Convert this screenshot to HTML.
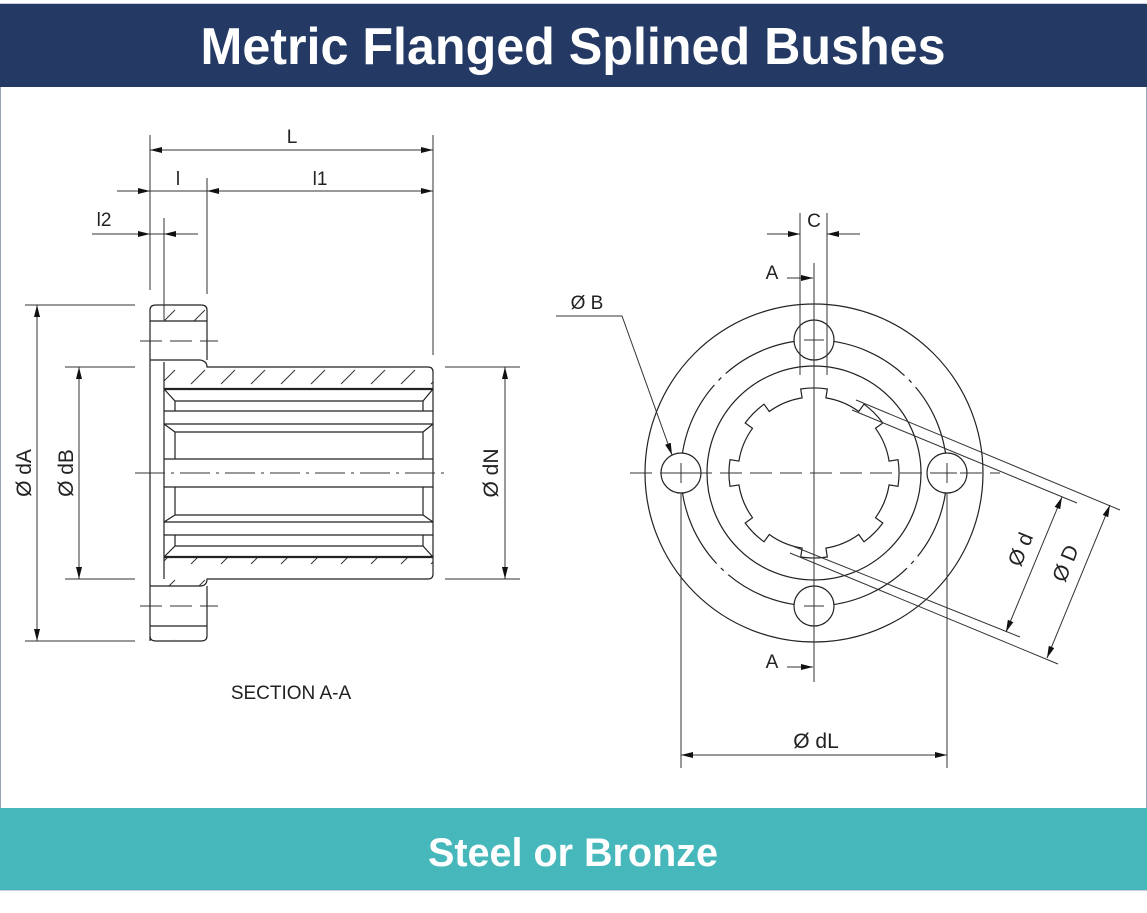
<!DOCTYPE html>
<html><head><meta charset="utf-8"><style>
html,body{margin:0;padding:0;background:#fff;}
svg{display:block;}
text{font-family:"Liberation Sans","DejaVu Sans",sans-serif;}
</style></head><body>
<svg width="1147" height="913" viewBox="0 0 1147 913" xmlns="http://www.w3.org/2000/svg">
<defs>
<marker id="ar" viewBox="0 0 12 6" refX="12" refY="3" markerWidth="12" markerHeight="6" orient="auto" markerUnits="userSpaceOnUse"><path d="M0,0 L12,3 L0,6 z" fill="#111"/></marker>
<marker id="al" viewBox="0 0 12 6" refX="0" refY="3" markerWidth="12" markerHeight="6" orient="auto" markerUnits="userSpaceOnUse"><path d="M12,0 L0,3 L12,6 z" fill="#111"/></marker>
<pattern id="hatch" width="30" height="30" patternUnits="userSpaceOnUse" x="5">
<line x1="6" y1="24" x2="20" y2="10" stroke="#333" stroke-width="1"/>
</pattern>
</defs>
<rect x="0" y="0" width="1147" height="913" fill="#fff"/>
<rect x="0.5" y="4" width="1146" height="886" fill="none" stroke="#9aa6b8" stroke-width="1"/>
<rect x="0" y="4" width="1147" height="83" fill="#243a64"/>
<text x="573" y="64" fill="#fff" font-size="52" font-weight="bold" text-anchor="middle" textLength="745" lengthAdjust="spacingAndGlyphs">Metric Flanged Splined Bushes</text>
<rect x="0" y="808" width="1147" height="82" fill="#46b8bb"/>
<text x="573" y="866" fill="#fff" font-size="40" font-weight="bold" text-anchor="middle" textLength="290" lengthAdjust="spacingAndGlyphs">Steel or Bronze</text>

<g stroke="#222" stroke-width="1.2" fill="none">
<rect x="152" y="307" width="53" height="14" fill="url(#hatch)" stroke="none"/>
<rect x="152" y="626" width="53" height="14" fill="url(#hatch)" stroke="none"/>
<path d="M164,361 L200,361 L207,367 L433,367 L433,389 L164,389 z" fill="url(#hatch)" stroke="none"/>
<path d="M164,557 L433,557 L433,579 L207,579 L200,586 L164,586 z" fill="url(#hatch)" stroke="none"/>
<path d="M150,641 L150,310 Q150,305 156,305 L201,305 Q207,305 207,310 L207,360"/>
<path d="M150,321 L207,321" />
<path d="M150,360 L200,360 Q207,361 207,367 L428,367 Q433,367 433,372 L433,574 Q433,579 428,579 L207,579 Q207,586 200,586 L150,586"/>
<path d="M207,586 L207,636 Q207,641 201,641 L156,641 Q150,641 150,636"/>
<path d="M150,626 L207,626"/>
<line x1="164" y1="362" x2="164" y2="579"/>
<line x1="164" y1="389" x2="433" y2="389" stroke-width="2.2"/>
<line x1="164" y1="557" x2="433" y2="557" stroke-width="2.2"/>
<path d="M164,389 L175,401 L423,401 L433,389 M175,401 L175,411 L423,411 L423,401 M164,411 L433,411"/>
<path d="M164,424 L433,424 M164,424 L175,432 L423,432 L433,424 M175,432 L175,459 M423,432 L423,459 M164,459 L433,459"/>
<path d="M164,487 L433,487 M175,487 L175,515 M423,487 L423,515 M164,522 L433,522 M164,522 L175,515 L423,515 L433,522"/>
<path d="M164,535 L433,535 M175,535 L175,546 L423,546 L423,535 M164,557 L175,546 M423,546 L433,557"/>
</g>
<g stroke="#333" stroke-width="1" fill="none">
<line x1="135" y1="473" x2="445" y2="473" stroke-dasharray="30,6,3,6"/>
<line x1="140" y1="341" x2="218" y2="341" stroke-dasharray="22,8"/>
<line x1="140" y1="606" x2="218" y2="606" stroke-dasharray="22,8"/>
<line x1="25" y1="305" x2="135" y2="305"/>
<line x1="25" y1="641" x2="135" y2="641"/>
<line x1="37" y1="305" x2="37" y2="641" marker-start="url(#al)" marker-end="url(#ar)"/>
<line x1="65" y1="367" x2="135" y2="367"/>
<line x1="65" y1="579" x2="135" y2="579"/>
<line x1="79" y1="367" x2="79" y2="579" marker-start="url(#al)" marker-end="url(#ar)"/>
<line x1="445" y1="367" x2="520" y2="367"/>
<line x1="445" y1="579" x2="520" y2="579"/>
<line x1="505" y1="367" x2="505" y2="579" marker-start="url(#al)" marker-end="url(#ar)"/>
<line x1="150" y1="135" x2="150" y2="290"/>
<line x1="433" y1="135" x2="433" y2="355"/>
<line x1="207" y1="178" x2="207" y2="294"/>
<line x1="164" y1="218" x2="164" y2="320"/>
<line x1="150" y1="150" x2="433" y2="150" marker-start="url(#al)" marker-end="url(#ar)"/>
<line x1="117" y1="191" x2="150" y2="191" marker-end="url(#ar)"/>
<line x1="150" y1="191" x2="207" y2="191"/>
<line x1="207" y1="191" x2="433" y2="191" marker-start="url(#al)" marker-end="url(#ar)"/>
<line x1="92" y1="234" x2="150" y2="234" marker-end="url(#ar)"/>
<line x1="150" y1="234" x2="164" y2="234"/>
<line x1="198" y1="234" x2="164" y2="234" marker-end="url(#ar)"/>
</g>
<g fill="#222" font-size="19">
<text x="292" y="143" text-anchor="middle">L</text>
<text x="178" y="185" text-anchor="middle">l</text>
<text x="320" y="185" text-anchor="middle">l1</text>
<text x="104" y="226" text-anchor="middle">l2</text>
<text transform="translate(31,473) rotate(-90)" text-anchor="middle" font-size="21">Ø dA</text>
<text transform="translate(73,473) rotate(-90)" text-anchor="middle" font-size="21">Ø dB</text>
<text transform="translate(498,473) rotate(-90)" text-anchor="middle" font-size="21">Ø dN</text>
<text x="291" y="699" text-anchor="middle" font-size="19">SECTION A-A</text>
</g>

<g stroke="#222" stroke-width="1.2" fill="none">
<circle cx="814" cy="473" r="169"/>
<circle cx="814" cy="473" r="133" stroke-dasharray="90,6,4,6"/>
<circle cx="814" cy="473" r="107"/>
<path id="spl" d=""/>
<circle cx="814" cy="340" r="20" fill="#fff"/>
<circle cx="814" cy="606" r="20" fill="#fff"/>
<circle cx="681" cy="473" r="20" fill="#fff"/>
<circle cx="947" cy="473" r="20" fill="#fff"/>
</g>
<g stroke="#333" stroke-width="1" fill="none">
<line x1="630" y1="473" x2="1000" y2="473" stroke-dasharray="22,8"/>
<line x1="814" y1="263" x2="814" y2="682"/>
<line x1="804" y1="340" x2="824" y2="340"/><line x1="804" y1="606" x2="824" y2="606"/>
<line x1="671" y1="473" x2="691" y2="473"/><line x1="681" y1="463" x2="681" y2="483"/>
<line x1="937" y1="473" x2="957" y2="473"/><line x1="947" y1="463" x2="947" y2="483"/>
<line x1="800" y1="213" x2="800" y2="375"/>
<line x1="827" y1="213" x2="827" y2="375"/>
<line x1="767" y1="234" x2="800" y2="234" marker-end="url(#ar)"/>
<line x1="860" y1="234" x2="827" y2="234" marker-end="url(#ar)"/>
<line x1="787" y1="278" x2="813" y2="278" marker-end="url(#ar)"/>
<line x1="787" y1="667" x2="813" y2="667" marker-end="url(#ar)"/>
<polyline points="556,316 622,316 672,455" marker-end="url(#ar)"/>
<line x1="681" y1="493" x2="681" y2="768"/>
<line x1="947" y1="493" x2="947" y2="768"/>
<line x1="681" y1="755" x2="947" y2="755" marker-start="url(#al)" marker-end="url(#ar)"/>
<line x1="852" y1="410" x2="1077" y2="503"/>
<line x1="790" y1="545" x2="1020" y2="637"/>
<line x1="856" y1="400" x2="1120" y2="510"/>
<line x1="790" y1="553" x2="1058" y2="664"/>
<line x1="1062" y1="497" x2="1006" y2="632" marker-start="url(#al)" marker-end="url(#ar)"/>
<line x1="1110" y1="505" x2="1047" y2="658" marker-start="url(#al)" marker-end="url(#ar)"/>
</g>
<g fill="#222" font-size="19">
<text x="814" y="227" text-anchor="middle">C</text>
<text x="772" y="279" text-anchor="middle">A</text>
<text x="772" y="668" text-anchor="middle">A</text>
<text x="587" y="309" text-anchor="middle">Ø B</text>
<text x="816" y="748" text-anchor="middle" font-size="21">Ø dL</text>
<text transform="translate(1027,552) rotate(-67.5)" text-anchor="middle" font-size="21">Ø d</text>
<text transform="translate(1072,566) rotate(-67.5)" text-anchor="middle" font-size="21">Ø D</text>
</g>
<script>
(function(){
var cx=814,cy=473,R=85,r=76,d="";
function p(a,rad){a=a*Math.PI/180;return (cx+rad*Math.cos(a)).toFixed(1)+","+(cy-rad*Math.sin(a)).toFixed(1);}
for(var k=0;k<8;k++){
var c=k*45;
d+=(k==0?"M":"L")+p(c-9,R)+" A"+R+","+R+" 0 0,0 "+p(c+9,R)+" L"+p(c+9,r)+" A"+r+","+r+" 0 0,0 "+p(c+36,r)+" ";
}
d+="Z";
document.getElementById("spl").setAttribute("d",d);
})();
</script>
</svg>
</body></html>
